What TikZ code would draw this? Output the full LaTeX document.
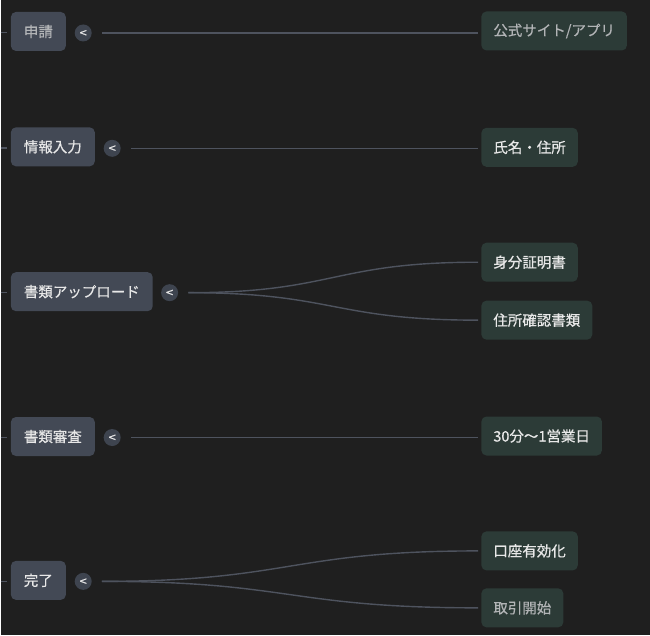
\documentclass[tikz,border=0pt]{standalone}
\usepackage{fontspec}
\setmainfont{Noto Sans CJK JP}[FakeBold=0.5]
\newfontfamily\togfont{DejaVu Sans}[FakeBold=1]
\usetikzlibrary{positioning}
\definecolor{bg}{HTML}{1F1F1F}
\definecolor{stepfill}{HTML}{434955}
\definecolor{leaffill}{HTML}{2C3B37}
\definecolor{togfill}{HTML}{3E444F}
\definecolor{wirec}{HTML}{4E535E}
\definecolor{txt}{HTML}{E8E8E8}
\definecolor{dim}{HTML}{B2B4B6}

\begin{document}
\begin{tikzpicture}[x=1pt,y=-1pt,font=\fontsize{14.5}{17}\selectfont,
  stepbox/.style={fill=stepfill,rounded corners=5pt,minimum height=39pt,inner xsep=13pt,text=txt,anchor=west},
  leaf/.style={fill=leaffill,rounded corners=5pt,minimum height=39pt,inner xsep=12pt,text=txt,anchor=west},
  tog/.style={circle,fill=togfill,minimum size=17pt,inner sep=0pt,text=txt,font=\togfont\fontsize{10}{10}\selectfont},
  wire/.style={draw=wirec,line width=1.4pt}]
\fill[bg] (0,0) rectangle (650,636);
% steps on the left
\node[stepbox,text=dim] (s1) at (10,31.5) {申請};
\node[stepbox] (s2) at (10,147) {情報入力};
\node[stepbox] (s3) at (10,292) {書類アップロード};
\node[stepbox] (s4) at (10,437) {書類審査};
\node[stepbox] (s5) at (10,581) {完了};
% collapse toggles
\node[tog,right=8.5pt of s1,yshift=-1.5pt] (t1) {<};
\node[tog,right=8.5pt of s2,yshift=-1.5pt] (t2) {<};
\node[tog,right=8pt of s3,yshift=-1pt] (t3) {<};
\node[tog,right=8.5pt of s4,yshift=-1pt] (t4) {<};
\node[tog,right=8.5pt of s5,yshift=-1pt] (t5) {<};
% details on the right
\node[leaf,text=dim] (l1) at (481,31) {公式サイト/アプリ};
\node[leaf] (l2) at (481,147.5) {氏名・住所};
\node[leaf] (l3a) at (481,262.5) {身分証明書};
\node[leaf] (l3b) at (481,320.5) {住所確認書類};
\node[leaf] (l4) at (481,436.5) {30分〜1営業日};
\node[leaf] (l5a) at (481,551.5) {口座有効化};
\node[leaf,text=dim] (l5b) at (481,608.5) {取引開始};
% stubs from the parent
\foreach \s in {s1,s2,s3,s4,s5}
  \draw[wire,shorten >=4pt] (\s.west) ++(-10,1) coordinate (p\s) -- (\s.west |- p\s);
% connectors
\draw[wire] ([xshift=10pt]t1.east) -- ([xshift=-3pt]l1.west |- t1);
\draw[wire] ([xshift=10pt]t2.east) -- ([xshift=-3pt]l2.west |- t2);
\draw[wire] ([xshift=10pt]t4.east) -- ([xshift=-3pt]l4.west |- t4);
\draw[wire] ([xshift=10pt]t3.east) .. controls +(146,0) and +(-146,0) .. ([xshift=-3pt]l3a.west);
\draw[wire] ([xshift=10pt]t3.east) .. controls +(146,0) and +(-146,0) .. ([xshift=-3pt]l3b.west);
\draw[wire] ([xshift=10pt]t5.east) .. controls +(189,0) and +(-189,0) .. ([xshift=-3pt]l5a.west);
\draw[wire] ([xshift=10pt]t5.east) .. controls +(189,0) and +(-189,0) .. ([xshift=-3pt]l5b.west);
\end{tikzpicture}
\end{document}
